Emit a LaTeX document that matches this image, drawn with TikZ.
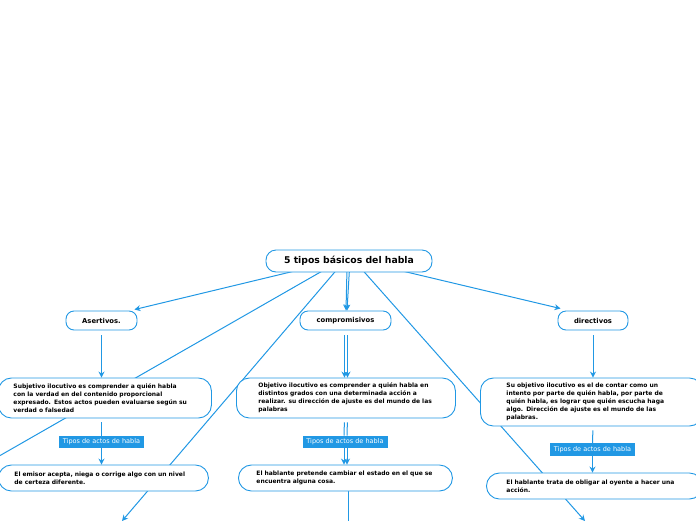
\documentclass[tikz,border=0pt]{standalone}
\usepackage{fontspec}
\setmainfont{DejaVu Sans}
\usetikzlibrary{arrows.meta,backgrounds}

\definecolor{mmblue}{RGB}{33,152,228}

\begin{document}
\begin{tikzpicture}[x=1pt,y=-1pt,
    topic/.style={draw=mmblue, line width=0.9pt, fill=white, rounded corners=10pt, minimum width=166pt, minimum height=22pt, font=\bfseries\fontsize{9.3}{11}\selectfont},
    idea/.style={draw=mmblue, line width=0.9pt, fill=white, rounded corners=8pt, minimum height=19pt, font=\bfseries\fontsize{6.8}{8}\selectfont},
    desc/.style={draw=mmblue, line width=0.9pt, fill=white, rounded corners=13pt, anchor=west, align=left, inner xsep=15pt, font=\bfseries\fontsize{6}{8}\selectfont},
    tag/.style={fill=mmblue, text=white, minimum width=85pt, minimum height=12.5pt, inner sep=1pt, font=\fontsize{6.5}{7}\selectfont},
    link/.style={draw=mmblue, line width=1pt},
    arrow/.style={link, -{Stealth[length=6pt,width=6pt]}}]
  \useasboundingbox (0,0) rectangle (696,520);
  \clip (0,0) rectangle (696,520);

  % central topic and main ideas
  \node[topic] (root) at (349,261) {5 tipos básicos del habla};
  \node[idea, minimum width=71pt] (asertivos) at (101.5,320.5) {Asertivos.};
  \node[idea, minimum width=91pt] (compromisivos) at (345.5,320.5) {compromisivos};
  \node[idea, minimum width=70pt] (directivos) at (593,320.5) {directivos};

  % descriptions
  \node[desc, text width=183pt, minimum height=40pt] (subjetivo) at (-2,398) {Subjetivo ilocutivo es comprender a quién habla\\con la verdad en del contenido proporcional\\expresado. Estos actos pueden evaluarse según su\\verdad o falsedad};
  \node[desc, text width=175pt, inner xsep=22pt, minimum height=40pt] (objetivo) at (236,398) {Objetivo ilocutivo es comprender a quién habla en\\distintos grados con una determinada acción a\\realizar. su dirección de ajuste es del mundo de las\\palabras};
  \node[desc, text width=170pt, inner xsep=26pt, minimum height=48pt] (suobjetivo) at (480,402) {Su objetivo ilocutivo es el de contar como un\\intento por parte de quién habla, por parte de\\quién habla, es lograr que quién escucha haga\\algo. Dirección de ajuste es el mundo de las\\palabras.};

  % types
  \node[tag] (tipoA) at (101.5,442) {Tipos de actos de habla};
  \node[tag] (tipoB) at (345,442) {Tipos de actos de habla};
  \node[tag] (tipoC) at (592.5,449.5) {Tipos de actos de habla};

  \node[desc, text width=178pt, inner xsep=16pt, minimum height=26pt] (emisor) at (-2,478) {El emisor acepta, niega o corrige algo con un nivel\\de certeza diferente.};
  \node[desc, text width=178pt, inner xsep=18pt, minimum height=26pt] (pretende) at (238,478) {El hablante pretende cambiar el estado en el que se\\encuentra alguna cosa.};
  \node[desc, text width=176pt, inner xsep=20pt, minimum height=26pt] (obligar) at (486,486) {El hablante trata de obligar al oyente a hacer una\\acción.};

  % branches leaving the page
  \coordinate (farLeft) at (-130,530);
  \coordinate (midLeft) at (122,521);
  \coordinate (farRight) at (585,521);
  \coordinate (below) at (348,530);

  \begin{pgfonlayer}{background}
    \draw[arrow] ([xshift=-52pt,yshift=2pt]root.south) -- ([xshift=-3pt,yshift=1pt]asertivos.north east);
    \draw[arrow] ([xshift=-2pt,yshift=4pt]root.south) -- ([xshift=0.5pt]compromisivos.north);
    \draw[arrow] ([xshift=0.5pt,yshift=4pt]root.south) -- ([xshift=1.5pt]compromisivos.north);
    \draw[arrow] ([xshift=51pt,yshift=2pt]root.south) -- ([xshift=3pt,yshift=2pt]directivos.north west);
    \draw[arrow] ([xshift=-24pt,yshift=3pt]root.south) -- (farLeft);
    \draw[arrow] ([xshift=-12pt,yshift=3pt]root.south) -- (midLeft);
    \draw[arrow] ([xshift=13pt,yshift=3pt]root.south) -- (farRight);

    \draw[arrow, shorten <=5pt] (asertivos.south) -- (asertivos.south |- subjetivo.north);
    \draw[link, shorten <=4pt] (asertivos.south |- subjetivo.south) -- (tipoA.north);
    \draw[arrow] (tipoA.south) -- (tipoA.south |- emisor.north);

    \foreach \dx in {-1,2} {
      \draw[arrow, shorten <=5pt] ([xshift=\dx pt]compromisivos.south) -- ([xshift=\dx pt]compromisivos.south |- objetivo.north);
      \draw[link, shorten <=4pt] ([xshift=\dx pt]compromisivos.south |- objetivo.south) -- ([xshift=\dx pt]tipoB.north);
      \draw[arrow] ([xshift=\dx pt]tipoB.south) -- ([xshift=\dx pt]tipoB.south |- pretende.north);
    }
    \draw[link] (pretende.south -| below) -- (below);

    \draw[arrow, shorten <=5pt] (directivos.south) -- (directivos.south |- suobjetivo.north);
    \draw[link, shorten <=4pt] (directivos.south |- suobjetivo.south) -- (tipoC.north);
    \draw[arrow] (tipoC.south) -- (tipoC.south |- obligar.north);
  \end{pgfonlayer}
\end{tikzpicture}
\end{document}
